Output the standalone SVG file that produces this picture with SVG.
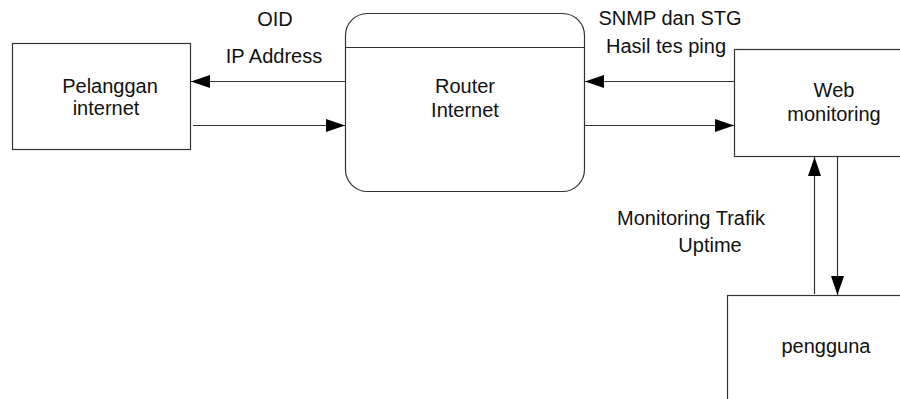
<svg xmlns="http://www.w3.org/2000/svg" width="900" height="399" viewBox="0 0 900 399">
  <style>
    .box { fill: #ffffff; stroke: #333333; stroke-width: 1.2; }
    .flow { fill: none; stroke: #333333; stroke-width: 1.2; marker-end: url(#arrow); }
    text { font-family: "Liberation Sans", Arial, sans-serif; font-size: 20px; fill: #111111; }
    .c { text-anchor: middle; }
  </style>
  <defs>
    <marker id="arrow" markerUnits="userSpaceOnUse" markerWidth="20" markerHeight="14" refX="19" refY="6.5" orient="auto">
      <path d="M0,0 L19,6.5 L0,13 Z" fill="#000000"/>
    </marker>
  </defs>
  <rect width="900" height="399" fill="#ffffff"/>

  <!-- external entity: customer -->
  <g id="pelanggan">
    <rect class="box" x="12.5" y="43.5" width="178" height="106"/>
    <text class="c" x="110" y="93">Pelanggan</text>
    <text class="c" x="106" y="115">internet</text>
  </g>

  <!-- process: router -->
  <g id="router">
    <rect class="box" x="345.5" y="13.5" width="239" height="178" rx="22" ry="22"/>
    <line x1="345.5" y1="47.5" x2="584.5" y2="47.5" stroke="#333333" stroke-width="1.2"/>
    <text class="c" x="465" y="93">Router</text>
    <text class="c" x="465" y="117">Internet</text>
  </g>

  <!-- external entity: web monitoring -->
  <g id="web">
    <rect class="box" x="734.5" y="49.5" width="190" height="107"/>
    <text class="c" x="834" y="97">Web</text>
    <text class="c" x="834" y="121">monitoring</text>
  </g>

  <!-- external entity: user -->
  <g id="pengguna">
    <rect class="box" x="727.5" y="295.5" width="200" height="120"/>
    <text class="c" x="826" y="353">pengguna</text>
  </g>

  <!-- data flows -->
  <g id="connectors">
    <line class="flow" x1="345" y1="81.5" x2="191" y2="81.5"/>
    <line class="flow" x1="193" y1="125.5" x2="345" y2="125.5"/>
    <line class="flow" x1="734" y1="81.5" x2="585" y2="81.5"/>
    <line class="flow" x1="585" y1="125.5" x2="734" y2="125.5"/>
    <line class="flow" x1="814.5" y1="294" x2="814.5" y2="157"/>
    <line class="flow" x1="837.5" y1="157" x2="837.5" y2="295"/>
  </g>

  <!-- flow labels -->
  <g id="labels">
    <text class="c" x="275" y="26">OID</text>
    <text class="c" x="274" y="63">IP Address</text>
    <text class="c" x="670" y="25">SNMP dan STG</text>
    <text class="c" x="666" y="53">Hasil tes ping</text>
    <text class="c" x="691" y="225">Monitoring Trafik</text>
    <text class="c" x="710" y="252">Uptime</text>
  </g>
</svg>
